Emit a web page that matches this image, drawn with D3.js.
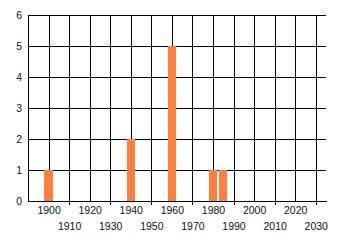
<!DOCTYPE html>
<html>
<head>
<meta charset="utf-8">
<script src="https://cdn.jsdelivr.net/npm/d3@7"></script>
<style>
	body { margin: 0; background: #ffffff; }
	svg { display: block; }
	.axis text { font-family: "Liberation Sans", Arial, sans-serif; font-size: 10.5px; fill: #111111; }
</style>
</head>
<body>
<svg width="340" height="245"></svg>
<script>
// data
var years = [1900, 1940, 1960, 1980, 1985];
var counts = [1, 2, 5, 1, 1];

var xTicks = [1900, 1910, 1920, 1930, 1940, 1950, 1960, 1970, 1980, 1990, 2000, 2010, 2020, 2030];
var yTicks = [0, 1, 2, 3, 4, 5, 6];

var chart = {
	left: 28,
	right: 326,
	top: 15,
	bottom: 201,
	barYears: 4,
	color: '#ff7f3f'
};

var svg = d3.select('svg');

chart.x = d3.scaleLinear().domain([1890, 2035]).range([chart.left, chart.right]);
chart.y = d3.scaleLinear().domain([0, 6]).range([chart.bottom, chart.top]);

//horizontal grid + y labels
var yAxis = svg.append('g')
	.attr('class', 'axis')
	.attr('transform', 'translate(' + chart.left + ',0)')
	.call(d3.axisLeft(chart.y)
		.tickValues(yTicks)
		.tickFormat(d3.format('d'))
		.tickSizeInner(-(chart.right - chart.left))
		.tickSizeOuter(0)
		.tickPadding(6));

yAxis.select('.domain').attr('stroke', '#000').attr('shape-rendering', 'crispEdges');
yAxis.selectAll('.tick line').attr('stroke', '#000').attr('shape-rendering', 'crispEdges');

//vertical grid + x labels in two rows
var xAxis = svg.append('g')
	.attr('class', 'axis')
	.attr('transform', 'translate(0,' + chart.bottom + ')')
	.call(d3.axisBottom(chart.x)
		.tickValues(xTicks)
		.tickFormat(d3.format('d'))
		.tickSizeInner(-(chart.bottom - chart.top))
		.tickSizeOuter(0));

xAxis.select('.domain').attr('stroke', '#000').attr('shape-rendering', 'crispEdges');

xAxis.selectAll('.tick').each(function(d, i){
	var tick = d3.select(this);
	tick.select('line')
		.attr('stroke', '#000')
		.attr('shape-rendering', 'crispEdges')
		.attr('y2', -(chart.bottom - chart.top))
		.attr('y1', i % 2 ? 4 : 0);
	tick.select('text')
		.attr('y', i % 2 ? 29 : 13)
		.attr('dy', 0);
});

//bars
var bw = chart.x(1890 + chart.barYears) - chart.x(1890);

svg.append('g').selectAll('rect')
	.data(years)
	.enter()
	.append('rect')
	.attr('x', function(d){ return chart.x(d) - bw / 2; })
	.attr('y', function(d, i){ return chart.y(counts[i]); })
	.attr('width', bw)
	.attr('height', function(d, i){ return chart.bottom - chart.y(counts[i]); })
	.attr('fill', chart.color)
	.attr('shape-rendering', 'crispEdges');
</script>
</body>
</html>
